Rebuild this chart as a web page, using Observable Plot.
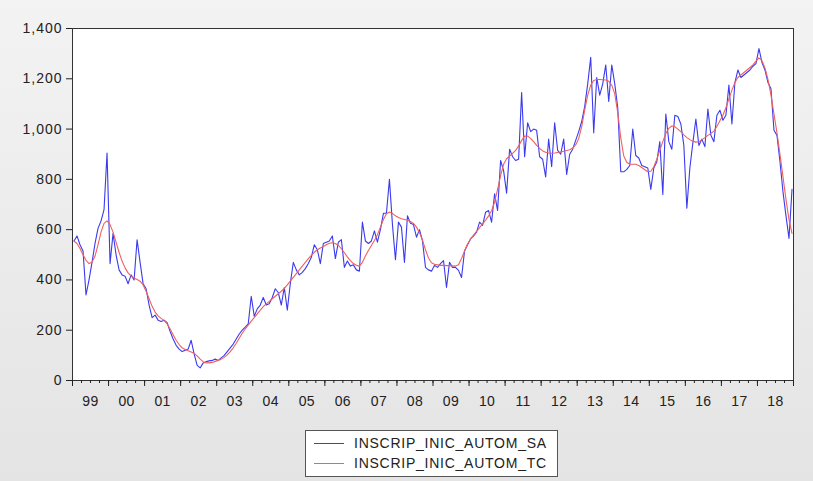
<!DOCTYPE html>
<html><head><meta charset="utf-8">
<script src="https://cdn.jsdelivr.net/npm/d3@7"></script>
<script src="https://cdn.jsdelivr.net/npm/@observablehq/plot@0.6"></script>
<style>
html,body{margin:0;padding:0;}
body{width:813px;height:481px;background:linear-gradient(#f3f3f3,#e4e4e4);font-family:"Liberation Sans",Arial,sans-serif;position:relative;overflow:hidden;}
#chart{position:absolute;left:0;top:0;}
#chart g[aria-label="y-axis tick label"] text{letter-spacing:1px;}
#chart g[aria-label="x-axis tick label"] text{letter-spacing:0.4px;}
#legend{position:absolute;left:305px;top:430px;width:251px;height:45px;background:#fff;border:1px solid #555;box-sizing:content-box;}
.row{position:absolute;left:0;height:20px;font-size:14px;letter-spacing:0.75px;color:#222;line-height:20px;white-space:nowrap;}
.row .sw{position:absolute;left:8px;top:10px;width:30px;height:0;border-top:1px solid;}
.row .lb{position:absolute;left:48px;top:0;}
</style></head>
<body>
<div id="chart"></div>
<div id="legend">
  <div class="row" style="top:2px"><span class="sw" style="border-color:#3a3af0"></span><span class="lb">INSCRIP_INIC_AUTOM_SA</span></div>
  <div class="row" style="top:22px"><span class="sw" style="border-color:#f06060"></span><span class="lb">INSCRIP_INIC_AUTOM_TC</span></div>
</div>
<script>
const startYear = 1999;
const yearLabels = ["99","00","01","02","03","04","05","06","07","08","09","10","11","12","13","14","15","16","17","18"];
const yTicks = [0,200,400,600,800,1000,1200,1400];
const seriesNames = ["INSCRIP_INIC_AUTOM_SA","INSCRIP_INIC_AUTOM_TC"];

// INSCRIP_INIC_AUTOM_SA, monthly 1999M01-2018M12
const sa = [
 555,575,540,515,340,400,470,545,605,635,680,905,
 465,585,500,440,420,415,385,420,400,560,470,385,
 365,300,250,260,240,235,240,230,195,165,140,125,
 115,120,125,160,105,60,50,70,75,78,80,85,
 80,90,100,115,130,145,165,185,200,212,225,335,
 255,285,300,330,300,305,330,365,350,300,370,280,
 385,470,440,420,430,445,465,490,540,520,465,545,
 550,555,575,485,550,560,450,475,455,460,440,435,
 630,555,545,555,595,550,600,665,665,800,620,480,
 630,610,470,655,625,620,570,600,555,450,440,435,
 458,450,465,477,370,470,450,450,438,410,515,540,
 563,575,590,630,617,669,676,630,743,676,875,835,
 745,920,890,875,880,1145,890,1025,990,1000,995,890,
 880,810,960,850,1025,915,900,960,820,900,920,955,
 990,1030,1090,1180,1285,985,1205,1135,1180,1255,1110,1255,
 1180,1085,830,830,840,855,1000,895,885,855,850,845,
 760,845,870,950,740,1060,950,920,1055,1050,1020,935,
 685,845,945,1040,935,960,930,1080,975,950,1055,1075,
 1035,1055,1175,1020,1185,1235,1205,1215,1225,1235,1250,1260,
 1320,1265,1235,1185,1160,995,975,870,750,655,565,760
];

// INSCRIP_INIC_AUTOM_TC, monthly 1999M01-2018M12
const tc = [
 555,545,525,500,478,465,470,495,540,590,625,635,
 620,590,550,510,475,448,428,415,408,402,395,380,
 355,325,295,272,257,247,238,225,205,182,160,143,
 130,123,118,113,108,98,85,75,70,70,72,76,
 80,85,92,102,115,130,148,168,188,205,220,236,
 250,265,280,294,305,315,325,335,345,355,366,380,
 395,410,425,440,455,470,485,498,510,520,527,533,
 540,546,548,545,537,524,508,492,477,465,458,455,
 470,495,517,537,557,580,610,640,663,670,665,655,
 648,643,640,637,632,625,610,588,558,520,487,468,
 462,460,458,458,457,457,456,455,460,485,515,543,
 563,578,593,608,623,638,655,675,710,760,815,860,
 882,893,903,915,933,955,972,972,963,950,935,923,
 913,908,905,904,905,907,909,912,915,918,925,937,
 962,1010,1075,1135,1175,1193,1197,1197,1196,1195,1190,1175,
 1140,1065,965,893,868,860,860,860,855,847,838,830,
 832,850,880,915,950,983,1003,1012,1010,1000,990,977,
 966,958,952,948,950,957,966,975,983,992,1010,1033,
 1055,1085,1120,1155,1185,1205,1215,1225,1235,1245,1255,1270,
 1283,1272,1243,1198,1135,1060,985,900,810,720,640,585
];

const data = sa.map((v, i) => ({t: startYear + (i + 0.5) / 12, sa: v, tc: tc[i]}));
const yearStarts = d3.range(startYear, startYear + yearLabels.length + 1);
const quarterTicks = d3.range(startYear * 4, (startYear + yearLabels.length) * 4 + 1).map(q => q / 4);
const labelPos = yearLabels.map((d, i) => startYear + i + 0.5);

const chart = Plot.plot({
  width: 813,
  height: 420,
  marginLeft: 72,
  marginRight: 20,
  marginTop: 28,
  marginBottom: 40,
  style: {background: "transparent", fontFamily: "'Liberation Sans', Arial, sans-serif", fontSize: "14px", color: "#222"},
  x: {domain: [startYear, startYear + yearLabels.length]},
  y: {domain: [0, 1400]},
  marks: [
    Plot.frame({fill: "white", stroke: "#333"}),
    Plot.axisY({ticks: yTicks, tickSize: 6, tickPadding: 4, tickFormat: d3.format(","), label: null, fontSize: 14}),
    Plot.axisX({ticks: quarterTicks, tickSize: 3, tickFormat: () => "", label: null}),
    Plot.axisX({ticks: yearStarts, tickSize: 6, tickFormat: () => "", label: null}),
    Plot.axisX({ticks: labelPos, tickSize: 0, tickPadding: 16, tickFormat: d => yearLabels[Math.floor(d) - startYear], label: null, fontSize: 14}),
    Plot.lineY(data, {x: "t", y: "sa", stroke: "#3a3af0", strokeWidth: 1.1}),
    Plot.lineY(data, {x: "t", y: "tc", stroke: "#f06060", strokeWidth: 1.1})
  ]
});
document.getElementById("chart").appendChild(chart);
</script>
</body></html>
